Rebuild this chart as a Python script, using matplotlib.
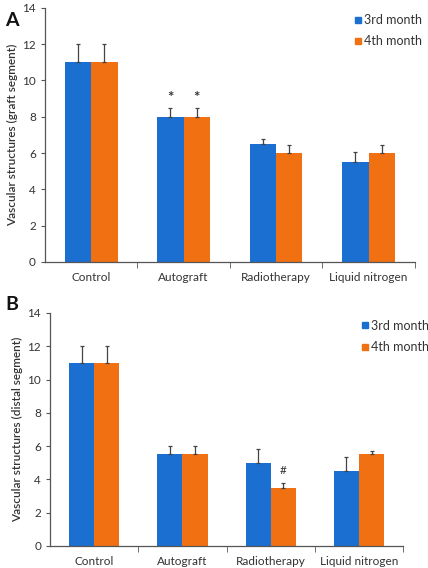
import numpy as np
import matplotlib.pyplot as plt
from matplotlib.lines import Line2D

categories = ["Control", "Autograft", "Radiotherapy", "Liquid nitrogen"]
series = ["3rd month", "4th month"]

# panel A : graft segment
a_3rd = [11.0, 8.0, 6.5, 5.5]
a_4th = [11.0, 8.0, 6.0, 6.0]
a_3rd_err = [1.0, 0.5, 0.3, 0.55]
a_4th_err = [1.0, 0.5, 0.45, 0.45]

# panel B : distal segment
b_3rd = [11.0, 5.5, 5.0, 4.5]
b_4th = [11.0, 5.5, 3.5, 5.5]
b_3rd_err = [1.0, 0.5, 0.8, 0.85]
b_4th_err = [1.0, 0.5, 0.3, 0.2]

blue = "#1a6fd0"
orange = "#f07012"
txt = "#333333"

plt.rcParams['font.family'] = ['Lato', 'DejaVu Sans']

fig = plt.figure(figsize=(4.28, 5.68), dpi=100)
axA = fig.add_axes([0.105, 0.539, 0.864, 0.447])
axB = fig.add_axes([0.117, 0.039, 0.825, 0.41])

x = np.arange(len(categories))
w = 0.285

def draw(ax, v3, v4, e3, e4, ylab):
    ax.bar(x - w/2, v3, w, color=blue, label=series[0])
    ax.bar(x + w/2, v4, w, color=orange, label=series[1])
    ax.errorbar(x - w/2, v3, yerr=[np.zeros(4), e3], fmt='none', ecolor='#444444',
                elinewidth=0.9, capsize=1.5, capthick=0.9)
    ax.errorbar(x + w/2, v4, yerr=[np.zeros(4), e4], fmt='none', ecolor='#444444',
                elinewidth=0.9, capsize=1.5, capthick=0.9)
    ax.set_xlim(-0.5, 3.5)
    ax.set_ylim(0, 14)
    ax.set_yticks(range(0, 15, 2))
    ax.set_xticks(x)
    ax.set_xticklabels(categories)
    ax.set_xticks(np.arange(0.5, 4, 1), minor=True)
    ax.tick_params(axis='x', which='major', length=0, labelsize=8.5, colors=txt, pad=7)
    ax.tick_params(axis='x', which='minor', length=4, direction='out', color='#555555')
    ax.tick_params(axis='y', length=3, direction='out', labelsize=8.5, colors=txt, color='#555555')
    for s in ['top', 'right']:
        ax.spines[s].set_visible(False)
    for s in ['left', 'bottom']:
        ax.spines[s].set_color('#555555')
        ax.spines[s].set_linewidth(0.9)
    ax.set_ylabel(ylab, fontsize=8.5, fontweight='semibold', color=txt, labelpad=3)

draw(axA, a_3rd, a_4th, a_3rd_err, a_4th_err, "Vascular structures (graft segment)")
draw(axB, b_3rd, b_4th, b_3rd_err, b_4th_err, "Vascular structures (distal segment)")

# significance marks
for xi in [x[1] - w/2, x[1] + w/2]:
    axA.text(xi, 9.05, "*", ha='center', va='center', fontsize=11, fontweight='bold', color=txt)
axB.text(x[2] + w/2, 4.5, "#", ha='center', va='center', fontsize=8.5, color=txt)

handles = [Line2D([], [], marker='s', linestyle='none', color=blue, markersize=4.2),
           Line2D([], [], marker='s', linestyle='none', color=orange, markersize=4.2)]
for ax, anchor in [(axA, (1.05, 1.02)), (axB, (1.105, 1.02))]:
    ax.legend(handles, series, loc='upper right', bbox_to_anchor=anchor, frameon=False,
              fontsize=9, handletextpad=0.0, handlelength=1.0, labelspacing=0.75,
              labelcolor=txt)

fig.text(0.012, 0.955, "A", fontsize=14, fontweight='bold', color='#111111')
fig.text(0.012, 0.455, "B", fontsize=14, fontweight='bold', color='#111111')

fig.savefig("out.png", dpi=100)
